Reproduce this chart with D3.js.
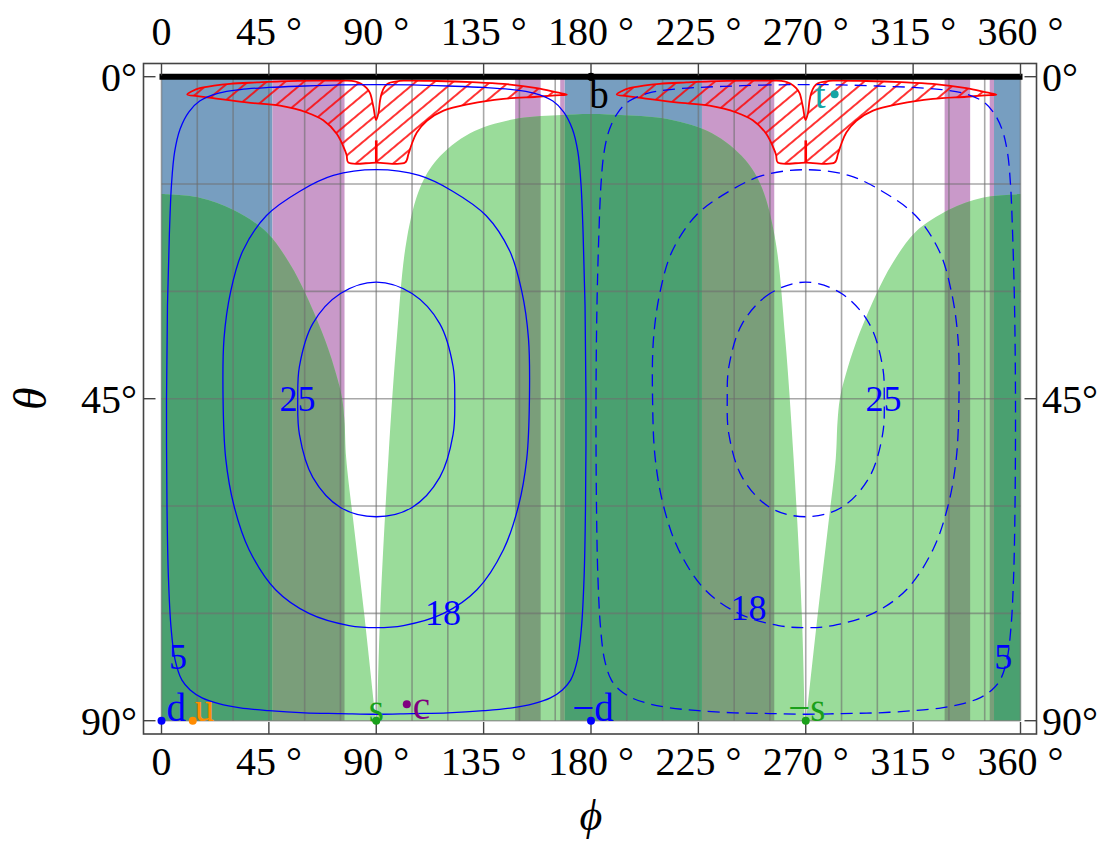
<!DOCTYPE html>
<html>
<head>
<meta charset="utf-8">
<script src="https://cdn.jsdelivr.net/npm/d3@7"></script>
<style>
  body { margin: 0; background: #fff; }
</style>
</head>
<body>
<div id="chart"></div>
<script>
// ---- data (phi, theta in degrees) ----
var phiTicks = [0, 45, 90, 135, 180, 225, 270, 315, 360];
var phiTickLabels = ["0", "45 \u00b0", "90 \u00b0", "135 \u00b0", "180 \u00b0", "225 \u00b0", "270 \u00b0", "315 \u00b0", "360 \u00b0"];
var thetaTicks = [0, 45, 90];
var thetaTickLabels = ["0\u00b0", "45\u00b0", "90\u00b0"];

// vertical bands [phiFrom, phiTo]
var blueBands = [[0, 46.5], [168.9, 226.5], [348.9, 360]];
var pinkBands = [[46.5, 76.7], [148.2, 158.9], [167.1, 168.9], [226.5, 256.8], [328.2, 338.9], [347.1, 348.9]];

// upper edge of the green region (region lies below it); right half mirrors about 180
var greenLeft = [[0, 16.4], [16, 16.9], [30, 18.6], [44, 21.7], [53.7, 26.1], [60.6, 30.5], [69, 37.2],
  [73.2, 41.6], [75.7, 45], [76.7, 48.3], [77.4, 53.3], [80.7, 63], [85, 75.2], [89.8, 90]];
var greenMid = [[90.4, 90], [91.6, 75.5], [95.1, 53.3], [98.6, 36.6], [102.8, 22.7], [108.4, 15.5],
  [115.4, 11.6], [129.3, 7.9], [147.5, 5.95], [165.7, 5.4], [180, 5.2]];

// hatched region outline (left lobe; the right lobe is the same shifted by 180)
var hatchLobe = [[10.8, 2.5], [13, 2.0], [16.1, 1.6], [22, 1.25], [28.7, 1.0], [40, 0.8], [50, 0.65], [65, 0.55],
  [77, 0.55], [81, 0.65], [83.5, 0.95], [86, 1.6], [87.4, 2.3], [88.8, 4.2], [89.9, 6.05], [90.9, 5.1],
  [91.6, 3.3], [92.3, 2.3], [93.5, 1.4], [95.1, 0.93], [98, 0.7], [101.4, 0.56], [115.4, 0.6], [130, 0.75],
  [143.3, 1.0], [157.3, 1.6], [165.7, 2.2], [169.9, 2.5],
  [165, 2.6], [157.3, 2.8], [143.3, 3.1], [129.3, 3.8], [118.2, 4.75], [111.2, 6.15], [107, 7.8],
  [104.9, 9.4], [103.5, 10.8], [102.1, 12], [90, 12], [78.3, 12], [77.6, 11], [76.9, 10.3], [73.5, 8.0],
  [67.8, 6.1], [60.9, 5.0], [49.7, 4.05], [35.7, 3.6], [21.7, 3.0], [15, 2.7]];
var hatchSplit = [[90, 8.9], [90, 12]];

// contour lines, left half of each (mirrored about phi = 90)
var contourLevels = [5, 18, 25];
var contour5 = [[90, 1.1], [75, 1.15], [60, 1.3], [45, 1.5], [33, 1.8], [24, 2.3], [16, 3.4], [11.5, 4.9], [7.8, 7.3],
  [5.5, 10.5], [4.2, 15], [3.3, 22], [2.5, 32], [2.1, 45], [2.3, 60], [2.9, 70], [4, 77], [5.7, 81.5],
  [8.5, 84.3], [12, 85.7], [17, 86.8], [24, 87.6], [33, 88.2], [45, 88.6], [60, 88.9], [75, 89.0], [90, 89.1]];
var contour18 = [[90, 13], [72, 13.8], [58, 16], [44, 19.4], [34, 24.4], [29, 30], [26.2, 36.6], [25.8, 45],
  [26.9, 53.3], [30.4, 60], [36.7, 66.1], [47.8, 71.7], [61.8, 75], [78.6, 76.7], [90, 77]];
var contour25 = [[90, 28.7], [75, 30.3], [63.4, 34.5], [57.8, 40.5], [57.1, 45], [57.8, 50],
  [63.4, 56], [75, 60.2], [90, 61.5]];
var contourLabelPos = [[[6.9, 81.1], [352.8, 81.1]], [[118, 75], [246, 74.3]], [[57, 45], [302.6, 45]]];

// marked points
var pointNames = ["d", "u", "s", "c", "\u2212d", "\u2212s", "b", "t"];
var pointPhi = [0, 13.1, 90, 102.8, 180, 270, 180, 282.1];
var pointTheta = [90, 90, 90, 87.7, 90, 90, 0, 2.46];
var pointColors = ["#0000ff", "#ff8c00", "#1aa01a", "#800080", "#0000ff", "#1aa01a", "#000000", "#14a5a5"];
// label offsets from the dot, pixels: [dx, dy, anchor]
var labelOffsets = [[5, 0, "start"], [2, 0, "start"], [0, 1, "middle"], [6, 15, "start"],
  [2, 0, "middle"], [1, 0, "middle"], [8, 31, "middle"], [-9, 14, "end"]];

// ---- drawing ----
var w = 1108, h = 842,
    serif = "'Times New Roman', 'Liberation Serif', Tinos, 'Nimbus Roman', 'DejaVu Serif', serif";
var x = d3.scaleLinear().domain([0, 360]).range([161.5, 1020.5]),
    y = d3.scaleLinear().domain([0, 90]).range([76.7, 720.7]);

var svg = d3.select("#chart").append("svg")
    .attr("width", w)
    .attr("height", h)
    .style("font-family", serif);

var defs = svg.append("defs");

function mirror(pts, about) {
  return pts.map(function(d) { return [2 * about - d[0], d[1]]; }).reverse();
}
function shift(pts, by) {
  return pts.map(function(d) { return [d[0] + by, d[1]]; });
}

var area = d3.area()
    .x(function(d) { return x(d[0]); })
    .y0(y(90))
    .y1(function(d) { return y(d[1]); })
    .curve(d3.curveCatmullRom.alpha(0.5));

// three green pieces: left, middle (mirrored about 180), right (mirror of left about 180)
var greenParts = [
  greenLeft,
  greenMid.concat(mirror(greenMid, 180).slice(1)),
  mirror(greenLeft, 180)
];

var clip = defs.append("clipPath").attr("id", "greenclip");
greenParts.forEach(function(p) { clip.append("path").attr("d", area(p)); });

var hatch = defs.append("pattern")
    .attr("id", "hatch")
    .attr("patternUnits", "userSpaceOnUse")
    .attr("width", 12)
    .attr("height", 12)
    .attr("patternTransform", "rotate(-40)");
hatch.append("line")
    .attr("x1", -1).attr("x2", 13)
    .attr("y1", 6).attr("y2", 6)
    .attr("stroke", "#ff0000")
    .attr("stroke-width", 1.6);

function bandRect(g, bands, color) {
  g.selectAll(null)
      .data(bands)
    .enter().append("rect")
      .attr("x", function(d) { return x(d[0]); })
      .attr("width", function(d) { return x(d[1]) - x(d[0]); })
      .attr("y", y(0))
      .attr("height", y(90) - y(0))
      .style("fill", color);
}

var regions = svg.append("g");
bandRect(regions, blueBands, "#779ec0");
bandRect(regions, pinkBands, "#c999c9");

regions.selectAll(".green")
    .data(greenParts)
  .enter().append("path")
    .attr("class", "green")
    .attr("d", area)
    .style("fill", "#9adc9a");

var overlap = regions.append("g").attr("clip-path", "url(#greenclip)");
bandRect(overlap, blueBands, "#4aa070");
bandRect(overlap, pinkBands, "#7a9e7a");

// grid
var grid = svg.append("g")
    .style("stroke", "#6e6e6e")
    .style("stroke-opacity", 0.6)
    .style("stroke-width", 1.6);
grid.selectAll(null)
    .data(d3.range(0, 361, 15))
  .enter().append("line")
    .attr("x1", x).attr("x2", x)
    .attr("y1", y(0)).attr("y2", y(90));
grid.selectAll(null)
    .data(d3.range(0, 91, 15))
  .enter().append("line")
    .attr("x1", x(0)).attr("x2", x(360))
    .attr("y1", y).attr("y2", y);

// hatched region
var lineClosed = d3.line()
    .x(function(d) { return x(d[0]); })
    .y(function(d) { return y(d[1]); })
    .curve(d3.curveCatmullRomClosed.alpha(0.5));
var lineOpen = d3.line()
    .x(function(d) { return x(d[0]); })
    .y(function(d) { return y(d[1]); });

[0, 180].forEach(function(off) {
  svg.append("path")
      .attr("d", lineClosed(shift(hatchLobe, off)))
      .style("fill", "url(#hatch)")
      .style("stroke", "#ff0000")
      .style("stroke-width", 1.8)
      .style("stroke-linejoin", "round");
  svg.append("path")
      .attr("d", lineOpen(shift(hatchSplit, off)))
      .style("stroke", "#ff0000")
      .style("stroke-width", 2.6);
});

// contours
var contours = [contour5, contour18, contour25];
contours.forEach(function(c, i) {
  var full = c.concat(mirror(c, 90).slice(1, -1));
  [0, 180].forEach(function(off, j) {
    svg.append("path")
        .attr("d", lineClosed(shift(full, off)))
        .style("fill", "none")
        .style("stroke", "#0000ff")
        .style("stroke-width", 1.3)
        .style("stroke-dasharray", j ? "12,7" : null);
    var lp = contourLabelPos[i][j];
    svg.append("text")
        .attr("x", x(lp[0]))
        .attr("y", y(lp[1]) + 12)
        .attr("text-anchor", "middle")
        .style("font-size", "36px")
        .style("fill", "#0000ff")
        .text(contourLevels[i]);
  });
});

// thick line at theta = 0
svg.append("line")
    .attr("x1", x(0) - 2).attr("x2", x(360) + 2)
    .attr("y1", y(0)).attr("y2", y(0))
    .style("stroke", "#000")
    .style("stroke-width", 6);

// frame and ticks
var fx0 = 143.5, fx1 = 1036.5, fy0 = 63.5, fy1 = 734;
svg.append("rect")
    .attr("x", fx0).attr("y", fy0)
    .attr("width", fx1 - fx0).attr("height", fy1 - fy0)
    .style("fill", "none")
    .style("stroke", "#444")
    .style("stroke-width", 1.6);

var ticks = svg.append("g").style("stroke", "#444").style("stroke-width", 1.4);
phiTicks.forEach(function(p) {
  ticks.append("line").attr("x1", x(p)).attr("x2", x(p)).attr("y1", fy1).attr("y2", fy1 - 12);
  ticks.append("line").attr("x1", x(p)).attr("x2", x(p)).attr("y1", fy0).attr("y2", fy0 + 12);
});
thetaTicks.forEach(function(t) {
  ticks.append("line").attr("x1", fx0).attr("x2", fx0 + 12).attr("y1", y(t)).attr("y2", y(t));
  ticks.append("line").attr("x1", fx1).attr("x2", fx1 - 12).attr("y1", y(t)).attr("y2", y(t));
});

var labels = svg.append("g").style("font-size", "40px").style("fill", "#000");
phiTicks.forEach(function(p, i) {
  labels.append("text").attr("x", x(p)).attr("y", 775).attr("text-anchor", "middle").text(phiTickLabels[i]);
  labels.append("text").attr("x", x(p)).attr("y", 45).attr("text-anchor", "middle").text(phiTickLabels[i]);
});
thetaTicks.forEach(function(t, i) {
  labels.append("text").attr("x", 137).attr("y", y(t) + 14).attr("text-anchor", "end").text(thetaTickLabels[i]);
  labels.append("text").attr("x", 1042).attr("y", y(t) + 14).attr("text-anchor", "start").text(thetaTickLabels[i]);
});

svg.append("text")
    .attr("transform", "translate(46," + y(45) + ") rotate(-90)")
    .attr("text-anchor", "middle")
    .style("font-size", "46px")
    .style("font-style", "italic")
    .text("\u03b8");
svg.append("text")
    .attr("x", x(180)).attr("y", 830)
    .attr("text-anchor", "middle")
    .style("font-size", "44px")
    .style("font-style", "italic")
    .text("\u03d5");

// points
var pts = svg.append("g");
pointNames.forEach(function(n, i) {
  var px = x(pointPhi[i]), py = y(pointTheta[i]);
  pts.append("circle")
      .attr("cx", px).attr("cy", py).attr("r", 4)
      .style("fill", pointColors[i]);
  pts.append("text")
      .attr("x", px + labelOffsets[i][0])
      .attr("y", py + labelOffsets[i][1])
      .attr("text-anchor", labelOffsets[i][2])
      .style("font-size", "39px")
      .style("fill", pointColors[i])
      .text(n);
});
</script>
</body>
</html>
